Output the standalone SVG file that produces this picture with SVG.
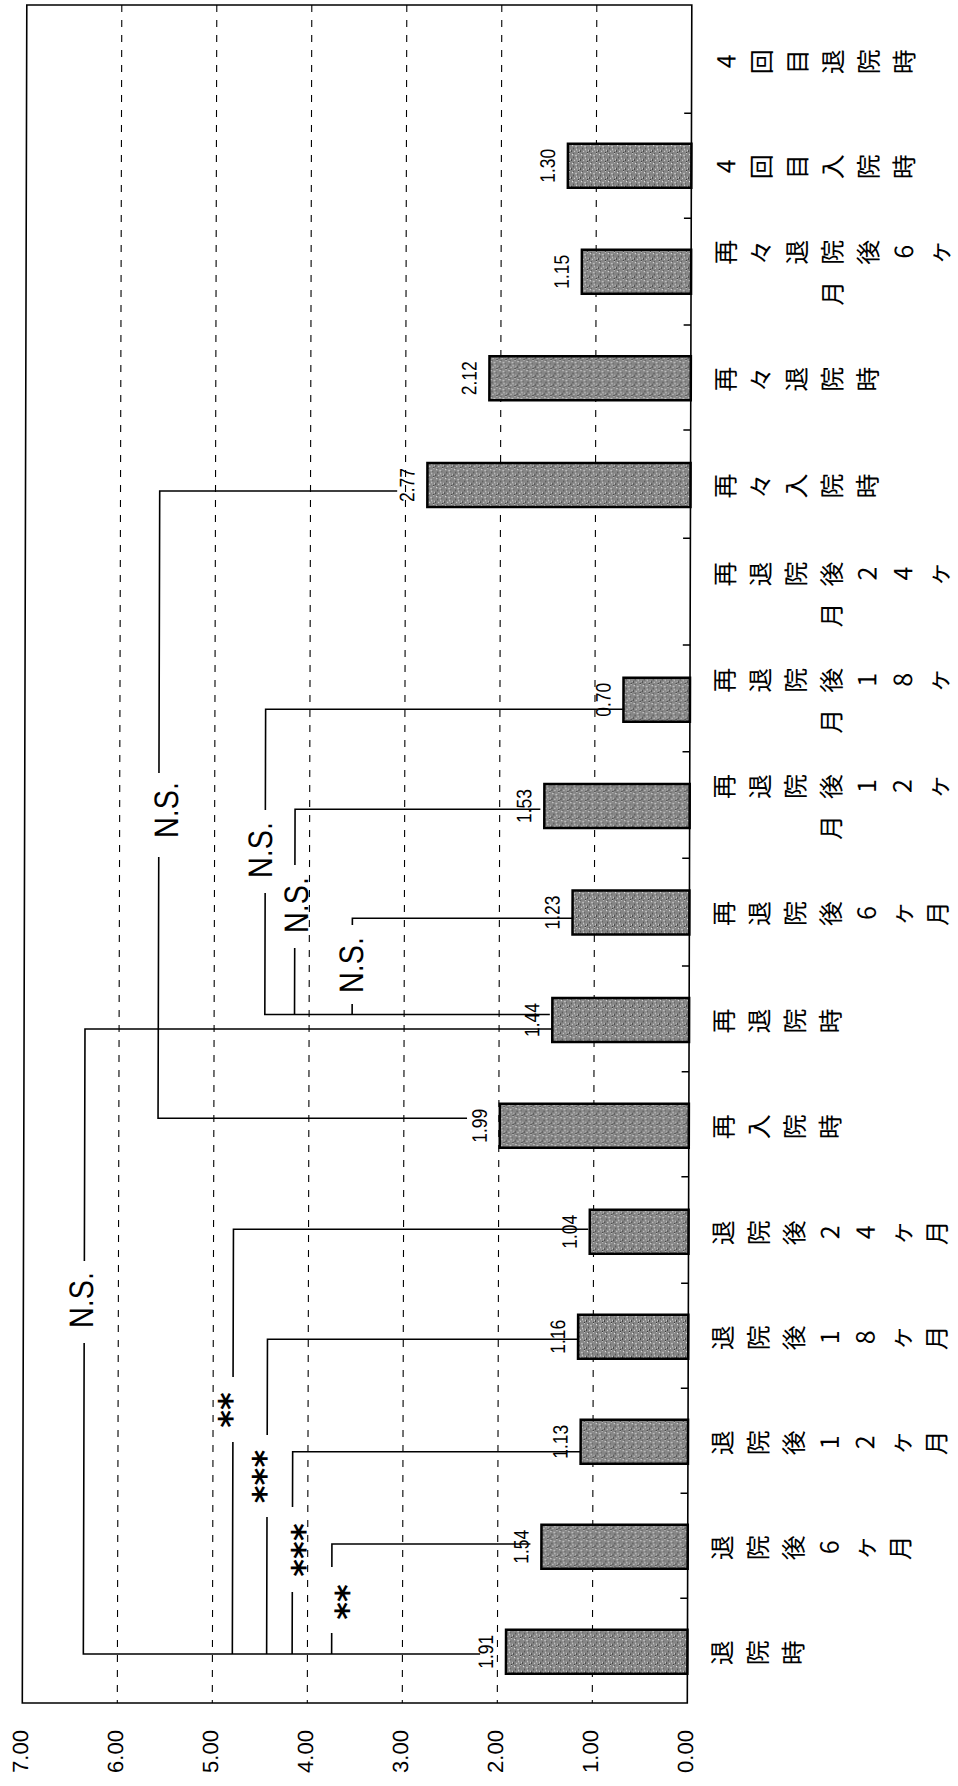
<svg xmlns="http://www.w3.org/2000/svg" width="958" height="1786" viewBox="0 0 958 1786">
<style>
.grid{stroke:#000;stroke-width:1.1;stroke-dasharray:7 8;fill:none}
.frame{fill:none;stroke:#000;stroke-width:1.6}
.tick{stroke:#000;stroke-width:1.4}
.bar{fill:url(#tex);stroke:#000;stroke-width:2.5}
.conn path{stroke:#000;stroke-width:1.6;fill:none}
.val{font-family:"Liberation Sans",Arial,sans-serif;font-size:21px;fill:#000}
.ax{font-family:"Liberation Sans",Arial,sans-serif;font-size:22px;fill:#000}
.ns{font-family:"Liberation Sans",Arial,sans-serif;font-size:34px;fill:#000}
.ast{font-family:"DejaVu Sans",sans-serif;font-size:34px;font-weight:bold;fill:#000}
.cat{font-family:"Noto Sans CJK JP","Noto Sans CJK SC",sans-serif;font-size:25px;fill:#000}
</style>
<defs>
<pattern id="tex" width="9" height="9" patternUnits="userSpaceOnUse">
<rect width="9" height="9" fill="#868686"/>
<rect x="1" y="1" width="1" height="1" fill="#fff"/>
<rect x="4" y="2" width="2" height="1" fill="#d8d8d8"/>
<rect x="2" y="4" width="1" height="1" fill="#2a2a2a"/>
<rect x="5" y="5" width="1" height="1" fill="#fff"/>
<rect x="0" y="6" width="1" height="2" fill="#3a3a3a"/>
<rect x="7" y="0" width="1" height="1" fill="#c8c8c8"/>
<rect x="3" y="7" width="1" height="1" fill="#e8e8e8"/>
<rect x="6" y="3" width="1" height="1" fill="#4a4a4a"/>
<rect x="8" y="6" width="1" height="1" fill="#f0f0f0"/>
<rect x="7" y="8" width="1" height="1" fill="#333"/>
<rect x="2" y="0" width="1" height="1" fill="#555"/>
<rect x="6" y="7" width="1" height="1" fill="#aaa"/>
</pattern>
</defs>
<rect width="958" height="1786" fill="#fff"/>
<g transform="matrix(1 0 -0.00265 1 4.513 0)">
<g id="gridlines">
<line class="grid" x1="592.3" y1="5" x2="592.3" y2="1703"/>
<line class="grid" x1="497.3" y1="5" x2="497.3" y2="1703"/>
<line class="grid" x1="402.3" y1="5" x2="402.3" y2="1703"/>
<line class="grid" x1="307.3" y1="5" x2="307.3" y2="1703"/>
<line class="grid" x1="212.3" y1="5" x2="212.3" y2="1703"/>
<line class="grid" x1="117.3" y1="5" x2="117.3" y2="1703"/>
</g>
<g id="frame">
<rect class="frame" x="22.3" y="5" width="665" height="1698"/>
<path class="tick" d="M680,113.3H687.3M680,218.3H687.3M680,325H687.3M680,430H687.3M680,538.3H687.3M680,645H687.3M680,751.7H687.3M680,858.3H687.3M680,966H687.3M680,1071.7H687.3M680,1176.7H687.3M680,1283.3H687.3M680,1388.3H687.3M680,1493.3H687.3M680,1598.3H687.3"/>
</g>
<g id="axis-labels" class="ax" text-anchor="middle">
<text transform="rotate(-90 693.2 1751.5)" x="693.2" y="1751.5">0.00</text>
<text transform="rotate(-90 598.2 1751.5)" x="598.2" y="1751.5">1.00</text>
<text transform="rotate(-90 503.2 1751.5)" x="503.2" y="1751.5">2.00</text>
<text transform="rotate(-90 408.2 1751.5)" x="408.2" y="1751.5">3.00</text>
<text transform="rotate(-90 313.2 1751.5)" x="313.2" y="1751.5">4.00</text>
<text transform="rotate(-90 218.2 1751.5)" x="218.2" y="1751.5">5.00</text>
<text transform="rotate(-90 123.2 1751.5)" x="123.2" y="1751.5">6.00</text>
<text transform="rotate(-90 28.2 1751.5)" x="28.2" y="1751.5">7.00</text>
</g>
<g class="conn" id="connectors">
<path d="M480,1654H83.2V1343M83.2,1261V1029H550"/>
<path d="M232.2,1654V1442M232.2,1377V1229.3H587"/>
<path d="M266.5,1654V1517M266.5,1435V1339.3H577"/>
<path d="M292,1654V1592M292,1507V1451.7H580"/>
<path d="M331.5,1654V1633M331.5,1567V1544H530"/>
<path d="M465.5,1118.3H156.5V857M156.5,773V491H394"/>
<path d="M548,1014.5H263V893M263,810V709.3H620.8"/>
<path d="M292.7,1014.5V948M292.7,865V809.3H538"/>
<path d="M350.3,1014.5V1004M350.3,925V918.3H570"/>
</g>
<g id="bar-0"><rect class="bar" x="505.85" y="1629.7" width="181.45" height="44"/><text class="val" transform="rotate(-90 492.85 1651.7)" x="492.85" y="1651.7" text-anchor="middle" textLength="34" lengthAdjust="spacingAndGlyphs">1.91</text></g>
<g id="bar-1"><rect class="bar" x="541" y="1524.7" width="146.3" height="44"/><text class="val" transform="rotate(-90 528 1546.7)" x="528" y="1546.7" text-anchor="middle" textLength="34" lengthAdjust="spacingAndGlyphs">1.54</text></g>
<g id="bar-2"><rect class="bar" x="579.95" y="1419.7" width="107.35" height="44"/><text class="val" transform="rotate(-90 566.95 1441.7)" x="566.95" y="1441.7" text-anchor="middle" textLength="34" lengthAdjust="spacingAndGlyphs">1.13</text></g>
<g id="bar-3"><rect class="bar" x="577.1" y="1314.7" width="110.2" height="44"/><text class="val" transform="rotate(-90 564.1 1336.7)" x="564.1" y="1336.7" text-anchor="middle" textLength="34" lengthAdjust="spacingAndGlyphs">1.16</text></g>
<g id="bar-4"><rect class="bar" x="588.5" y="1209.7" width="98.8" height="44"/><text class="val" transform="rotate(-90 575.5 1231.7)" x="575.5" y="1231.7" text-anchor="middle" textLength="34" lengthAdjust="spacingAndGlyphs">1.04</text></g>
<g id="bar-5"><rect class="bar" x="498.25" y="1103.8" width="189.05" height="44"/><text class="val" transform="rotate(-90 485.25 1125.8)" x="485.25" y="1125.8" text-anchor="middle" textLength="34" lengthAdjust="spacingAndGlyphs">1.99</text></g>
<g id="bar-6"><rect class="bar" x="550.5" y="998" width="136.8" height="44"/><text class="val" transform="rotate(-90 537.5 1020)" x="537.5" y="1020" text-anchor="middle" textLength="34" lengthAdjust="spacingAndGlyphs">1.44</text></g>
<g id="bar-7"><rect class="bar" x="570.45" y="890.5" width="116.85" height="44"/><text class="val" transform="rotate(-90 557.45 912.5)" x="557.45" y="912.5" text-anchor="middle" textLength="34" lengthAdjust="spacingAndGlyphs">1.23</text></g>
<g id="bar-8"><rect class="bar" x="541.95" y="784" width="145.35" height="44"/><text class="val" transform="rotate(-90 528.95 806)" x="528.95" y="806" text-anchor="middle" textLength="34" lengthAdjust="spacingAndGlyphs">1.53</text></g>
<g id="bar-9"><rect class="bar" x="620.8" y="677.8" width="66.5" height="44"/><text class="val" transform="rotate(-90 607.8 699.8)" x="607.8" y="699.8" text-anchor="middle" textLength="34" lengthAdjust="spacingAndGlyphs">0.70</text></g>
<g id="bar-11"><rect class="bar" x="424.15" y="463" width="263.15" height="44"/><text class="val" transform="rotate(-90 411.15 485)" x="411.15" y="485" text-anchor="middle" textLength="34" lengthAdjust="spacingAndGlyphs">2.77</text></g>
<g id="bar-12"><rect class="bar" x="485.9" y="356.3" width="201.4" height="44"/><text class="val" transform="rotate(-90 472.9 378.3)" x="472.9" y="378.3" text-anchor="middle" textLength="34" lengthAdjust="spacingAndGlyphs">2.12</text></g>
<g id="bar-13"><rect class="bar" x="578.05" y="249.7" width="109.25" height="44"/><text class="val" transform="rotate(-90 565.05 271.7)" x="565.05" y="271.7" text-anchor="middle" textLength="34" lengthAdjust="spacingAndGlyphs">1.15</text></g>
<g id="bar-14"><rect class="bar" x="563.8" y="143.8" width="123.5" height="44"/><text class="val" transform="rotate(-90 550.8 165.8)" x="550.8" y="165.8" text-anchor="middle" textLength="34" lengthAdjust="spacingAndGlyphs">1.30</text></g>
<g id="sig-labels" text-anchor="middle">
<text class="ns" transform="rotate(-90 91.9 1300)" x="91.9" y="1300" textLength="56" lengthAdjust="spacingAndGlyphs">N.S.</text>
<text class="ns" transform="rotate(-90 175.6 810)" x="175.6" y="810" textLength="56" lengthAdjust="spacingAndGlyphs">N.S.</text>
<text class="ns" transform="rotate(-90 269.7 850)" x="269.7" y="850" textLength="56" lengthAdjust="spacingAndGlyphs">N.S.</text>
<text class="ns" transform="rotate(-90 305.9 905)" x="305.9" y="905" textLength="56" lengthAdjust="spacingAndGlyphs">N.S.</text>
<text class="ns" transform="rotate(-90 361 965)" x="361" y="965" textLength="56" lengthAdjust="spacingAndGlyphs">N.S.</text>
<text class="ast" transform="rotate(-90 242.2 1410)" x="242.2" y="1410">**</text>
<text class="ast" transform="rotate(-90 276.4 1476.5)" x="276.4" y="1476.5">***</text>
<text class="ast" transform="rotate(-90 315.6 1550)" x="315.6" y="1550">***</text>
<text class="ast" transform="rotate(-90 359.4 1602)" x="359.4" y="1602">**</text>
</g>
<g id="category-labels" class="cat">
<text x="731.2 766.8 802.4" y="1665.2" rotate="-90">退院時</text>
<text x="731.2 766.8 802.4 838 873.6 909.2" y="1560.2 1560.2 1560.2 1554.2 1560.2 1560.2" rotate="-90">退院後6ヶ月</text>
<text x="731.2 766.8 802.4 838 873.6 909.2 944.8" y="1455.2 1455.2 1455.2 1449.2 1449.2 1455.2 1455.2" rotate="-90">退院後12ヶ月</text>
<text x="731.2 766.8 802.4 838 873.6 909.2 944.8" y="1350.2 1350.2 1350.2 1344.2 1344.2 1350.2 1350.2" rotate="-90">退院後18ヶ月</text>
<text x="731.2 766.8 802.4 838 873.6 909.2 944.8" y="1245.2 1245.2 1245.2 1239.2 1239.2 1245.2 1245.2" rotate="-90">退院後24ヶ月</text>
<text x="731.2 766.8 802.4 838" y="1139.3" rotate="-90">再入院時</text>
<text x="731.2 766.8 802.4 838" y="1033.5" rotate="-90">再退院時</text>
<text x="731.2 766.8 802.4 838 873.6 909.2 944.8" y="926 926 926 926 920 926 926" rotate="-90">再退院後6ヶ月</text>
<text x="731.2 766.8 802.4 838 873.6 909.2 944.8" y="799 799 799 799 793 793 799" rotate="-90">再退院後12ヶ</text>
<text x="838" y="840" rotate="-90">月</text>
<text x="731.2 766.8 802.4 838 873.6 909.2 944.8" y="692.8 692.8 692.8 692.8 686.8 686.8 692.8" rotate="-90">再退院後18ヶ</text>
<text x="838" y="733.8" rotate="-90">月</text>
<text x="731.2 766.8 802.4 838 873.6 909.2 944.8" y="586.5 586.5 586.5 586.5 580.5 580.5 586.5" rotate="-90">再退院後24ヶ</text>
<text x="838" y="627.5" rotate="-90">月</text>
<text x="731.2 766.8 802.4 838 873.6" y="498.5" rotate="-90">再々入院時</text>
<text x="731.2 766.8 802.4 838 873.6" y="391.8" rotate="-90">再々退院時</text>
<text x="731.2 766.8 802.4 838 873.6 909.2 944.8" y="264.7 264.7 264.7 264.7 264.7 258.7 264.7" rotate="-90">再々退院後6ヶ</text>
<text x="838" y="305.7" rotate="-90">月</text>
<text x="731.2 766.8 802.4 838 873.6 909.2" y="173.3 179.3 179.3 179.3 179.3 179.3" rotate="-90">4回目入院時</text>
<text x="731.2 766.8 802.4 838 873.6 909.2" y="68.2 74.2 74.2 74.2 74.2 74.2" rotate="-90">4回目退院時</text>
</g>
</g>
</svg>
